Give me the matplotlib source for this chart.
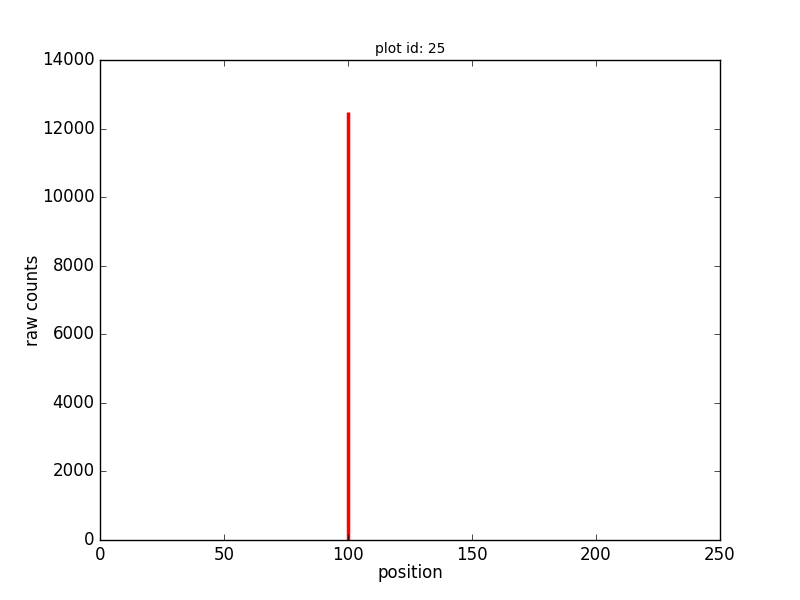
import matplotlib
matplotlib.use("Agg")
import matplotlib.pyplot as plt

positions = [100]
counts = [12480]

plt.style.use('classic')
fig = plt.figure(figsize=(8, 6), dpi=100, facecolor='white')
ax = fig.add_axes([0.125, 0.1, 0.775, 0.8])
ax.vlines(positions, 0, counts, colors='red', linewidth=2.5)
ax.set_xlim(0, 250)
ax.set_ylim(0, 14000)
ax.set_xlabel('position', fontsize=12, labelpad=0)
ax.set_ylabel('raw counts', fontsize=12, labelpad=0)
ax.set_title('plot id: 25', fontsize=10)
fig.savefig('out.png', dpi=100, facecolor='white')
